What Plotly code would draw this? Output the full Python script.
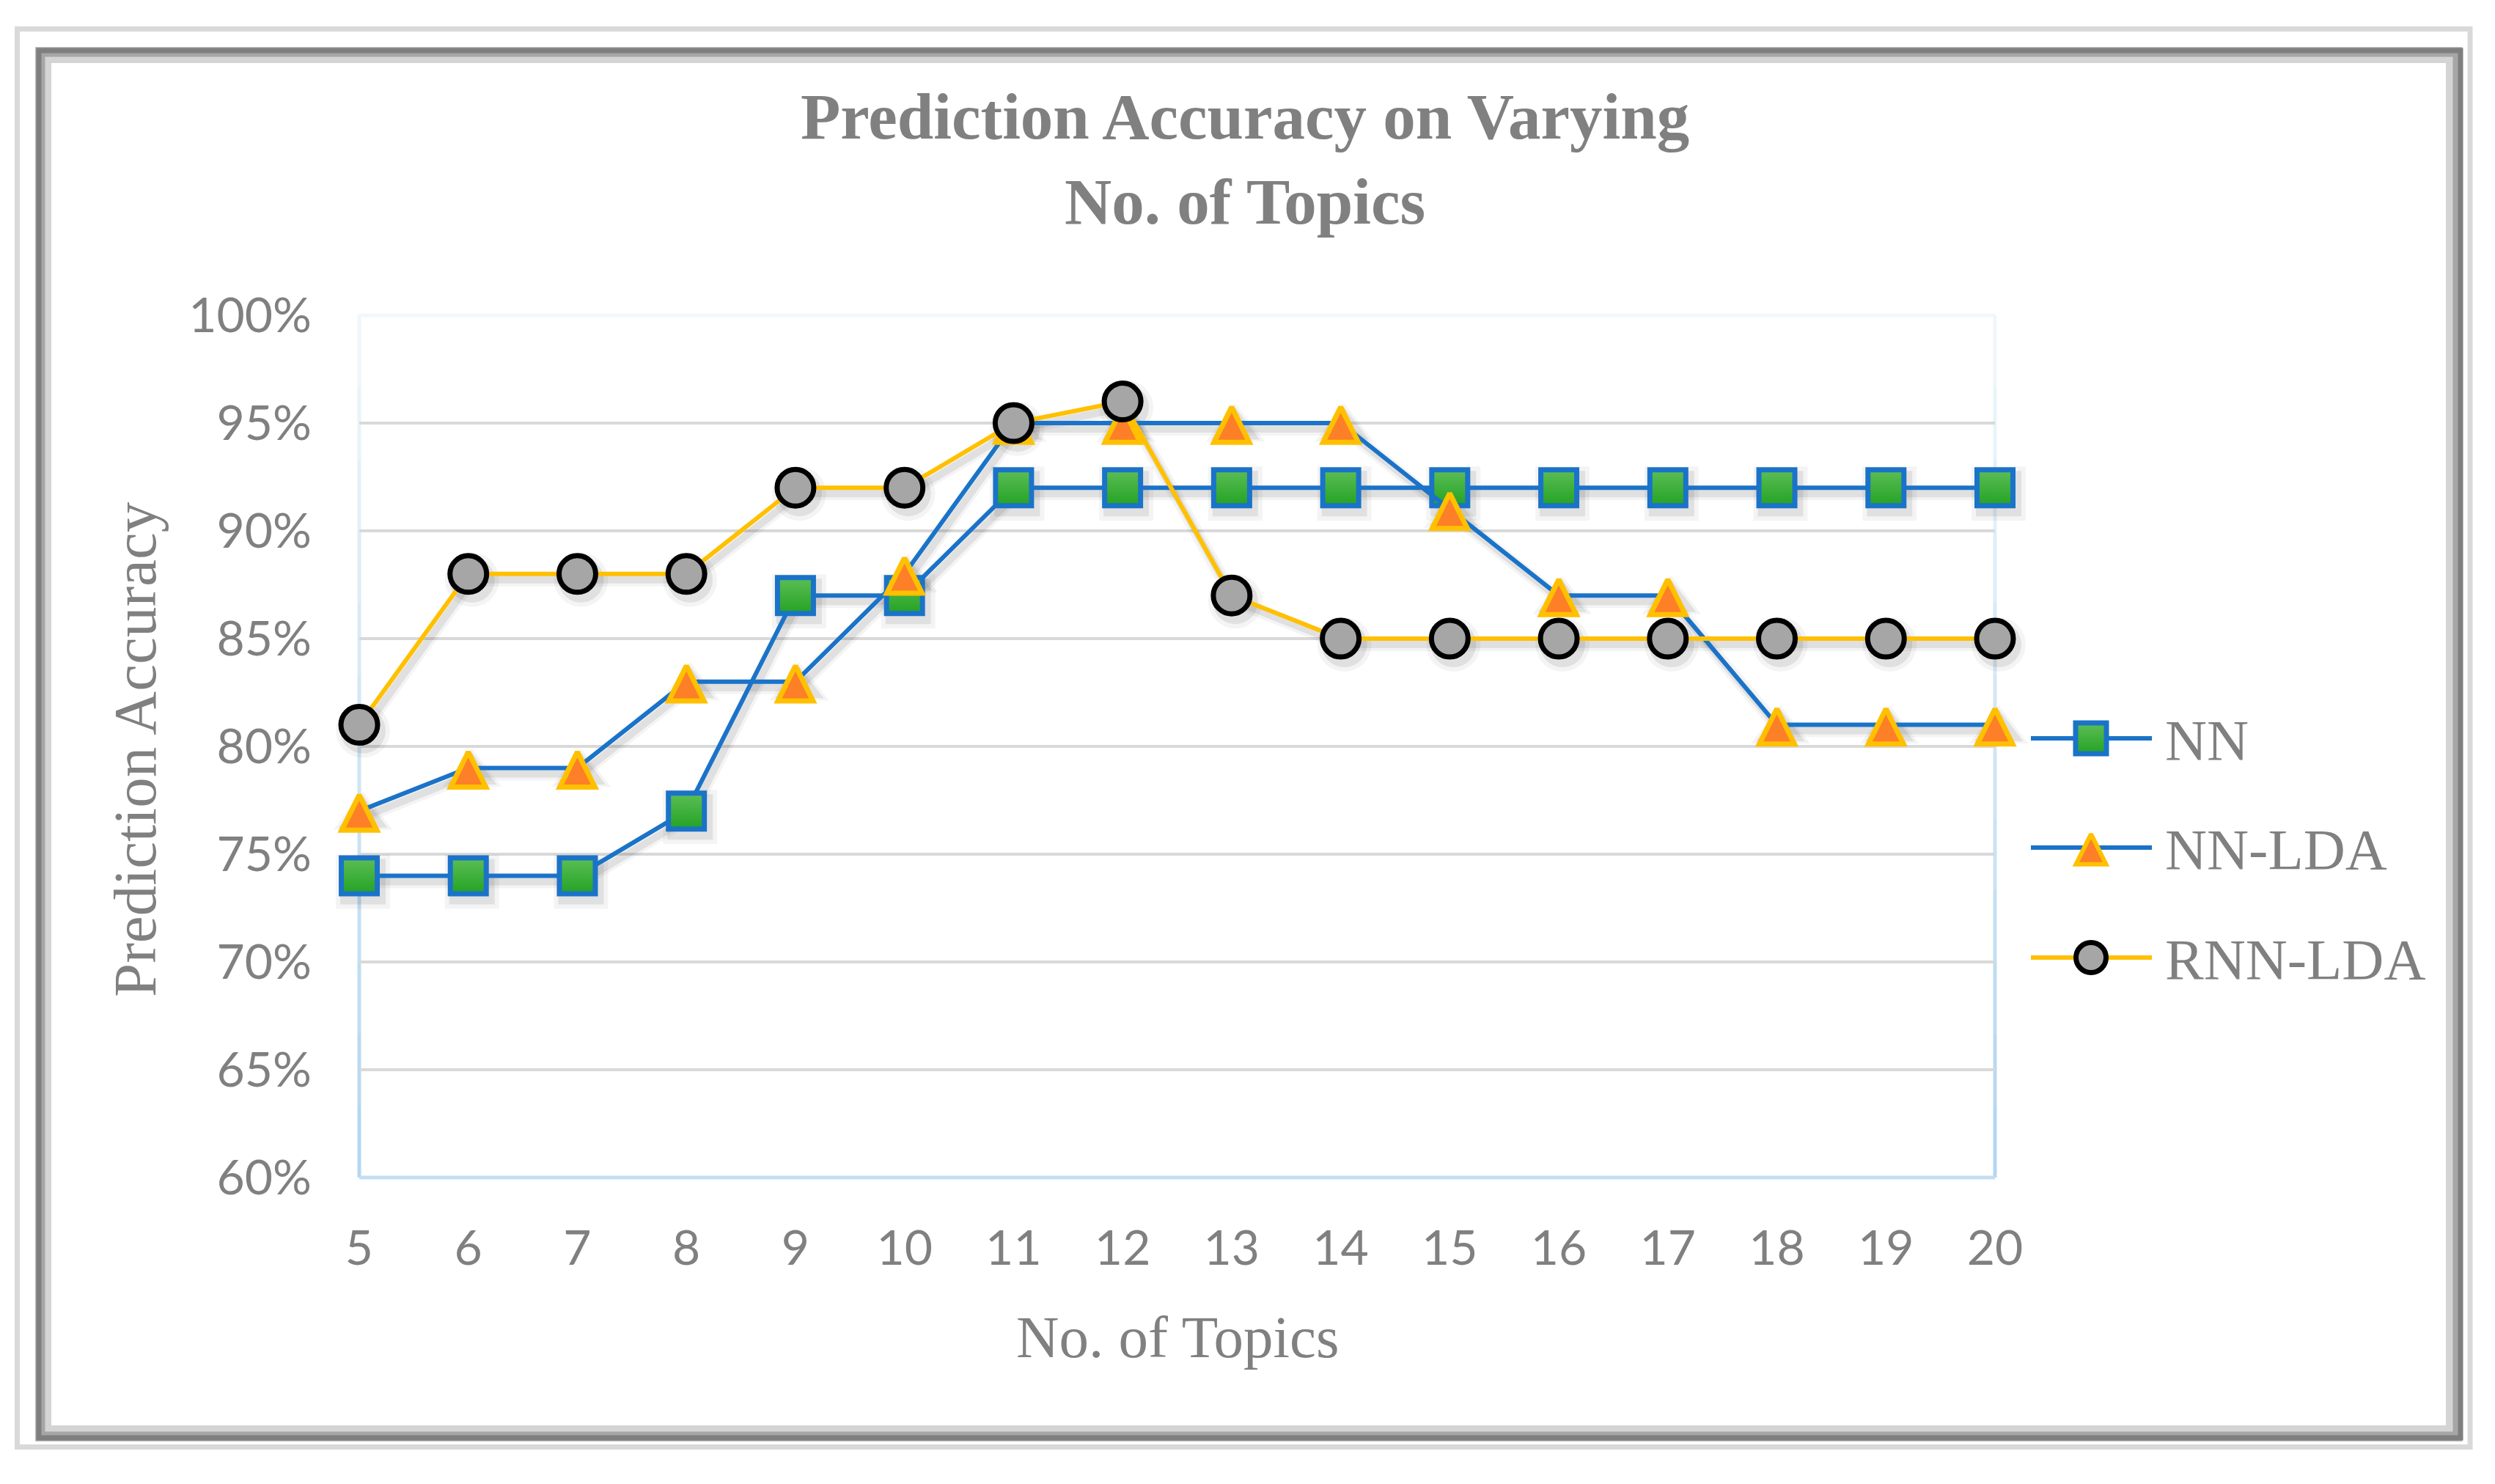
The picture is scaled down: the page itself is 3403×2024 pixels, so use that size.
import plotly.graph_objects as go

# ---------------- data ----------------
topics = [5, 6, 7, 8, 9, 10, 11, 12, 13, 14, 15, 16, 17, 18, 19, 20]
nn      = [0.74, 0.74, 0.74, 0.77, 0.87, 0.87, 0.92, 0.92, 0.92, 0.92, 0.92, 0.92, 0.92, 0.92, 0.92, 0.92]
nn_lda  = [0.77, 0.79, 0.79, 0.83, 0.83, 0.88, 0.95, 0.95, 0.95, 0.95, 0.91, 0.87, 0.87, 0.81, 0.81, 0.81]
rnn_lda = [0.81, 0.88, 0.88, 0.88, 0.92, 0.92, 0.95, 0.96, 0.87, 0.85, 0.85, 0.85, 0.85, 0.85, 0.85, 0.85]
series_names = ["NN", "NN-LDA", "RNN-LDA"]
y_tickvals = [0.60, 0.65, 0.70, 0.75, 0.80, 0.85, 0.90, 0.95, 1.00]
y_ticktext = ["60%", "65%", "70%", "75%", "80%", "85%", "90%", "95%", "100%"]
y_gridvals = [0.65, 0.70, 0.75, 0.80, 0.85, 0.90, 0.95]
title_text = "Prediction Accuracy on Varying<br>No. of Topics"
x_title = "No. of Topics"
y_title = "Prediction Accuracy"

# ---------------- layout geometry (pixels) ----------------
W, H = 3403, 2024
PL, PR, PT, PB = 490, 2721, 430, 1606
SH_DX, SH_DY = 5, 8
TRI_S = 48
TRI_SHIFT = (TRI_S - 4.3) / 2.0

def fx(px):
    return px / W

def fy(py):
    return 1 - py / H

GRAY = "#808080"
BLUE = "#1a73c8"
GOLD = "#ffc000"
ORANGE = "#fd7f28"
GREEN_T = "#5cbe56"
GREEN_B = "#24a224"
CIRC = "#a6a6a6"

SERIF = "Liberation Serif"
SANS = "Lato"

main_xdom = [fx(PL), fx(PR)]
main_ydom = [fy(PB), fy(PT)]
sh_xdom = [fx(PL + SH_DX), fx(PR + SH_DX)]
sh_ydom = [fy(PB + SH_DY), fy(PT + SH_DY)]
tri_ydom = [fy(PB - TRI_SHIFT), fy(PT - TRI_SHIFT)]

fig = go.Figure()

# ---------- axes carrier (subplot xy: ticks + grid) ----------
fig.add_trace(go.Scatter(x=[None], y=[None], xaxis="x", yaxis="y", mode="markers",
                         showlegend=False, hoverinfo="skip"))

# ---------- shadows (subplot x2y2, offset a few pixels) ----------
sh_specs = [(nn, "square", 58), (nn_lda, "triangle-up", 54), (rnn_lda, "circle", 58)]
for vals, sym, sz in sh_specs:
    for lw, msz, a in [(18, sz + 16, 0.045), (10, sz + 4, 0.08)]:
        fig.add_trace(go.Scatter(
            x=topics, y=vals, mode="lines+markers", xaxis="x2", yaxis="y2",
            line=dict(color=f"rgba(0,0,0,{a})", width=lw),
            marker=dict(symbol=sym, size=msz, color=f"rgba(0,0,0,{a})", line=dict(width=0)),
            showlegend=False, hoverinfo="skip", cliponaxis=False))

# ---------- NN + NN-LDA line (subplot x3y3) ----------
fig.add_trace(go.Scatter(
    x=topics, y=nn, mode="lines+markers", name=series_names[0], xaxis="x3", yaxis="y3",
    line=dict(color=BLUE, width=6),
    marker=dict(symbol="square", size=49, color=GREEN_T,
                gradient=dict(type="vertical", color=GREEN_B),
                line=dict(color=BLUE, width=7)),
    showlegend=False, cliponaxis=False))
fig.add_trace(go.Scatter(
    x=topics, y=nn_lda, mode="lines", name=series_names[1], xaxis="x3", yaxis="y3",
    line=dict(color=BLUE, width=6), showlegend=False, cliponaxis=False))

# ---------- NN-LDA markers (subplot x4y4, shifted so arrow-up triangle is centred) ----------
fig.add_trace(go.Scatter(
    x=topics, y=nn_lda, mode="markers", name=series_names[1], xaxis="x4", yaxis="y4",
    marker=dict(symbol="arrow-up", size=TRI_S, color=ORANGE, line=dict(color=GOLD, width=7)),
    showlegend=False, cliponaxis=False))

# ---------- RNN-LDA (subplot x5y5) ----------
fig.add_trace(go.Scatter(
    x=topics, y=rnn_lda, mode="lines+markers", name=series_names[2], xaxis="x5", yaxis="y5",
    line=dict(color=GOLD, width=6),
    marker=dict(symbol="circle", size=50, color=CIRC, line=dict(color="#000000", width=7)),
    showlegend=False, cliponaxis=False))

# ---------- legend (pixel overlay x6y6) ----------
LEG_X0, LEG_X1, LEG_XM, LEG_TX = 2770, 2935, 2852, 2951
LEG_ROWS = [1007, 1156, 1306]
leg_styles = [
    dict(line=BLUE, sym="square", size=42, fill=GREEN_T, grad=GREEN_B, edge=BLUE, lw=7, dy=0),
    dict(line=BLUE, sym="arrow-up", size=41, fill=ORANGE, grad=None, edge=GOLD, lw=6, dy=-(41 - 4.3) / 2),
    dict(line=GOLD, sym="circle", size=41, fill=CIRC, grad=None, edge="#000000", lw=7, dy=0),
]
for name, row, st in zip(series_names, LEG_ROWS, leg_styles):
    fig.add_trace(go.Scatter(
        x=[LEG_X0, LEG_X1], y=[row, row], mode="lines", xaxis="x6", yaxis="y6",
        line=dict(color=st["line"], width=6), showlegend=False, hoverinfo="skip"))
    mk = dict(symbol=st["sym"], size=st["size"], color=st["fill"], line=dict(color=st["edge"], width=st["lw"]))
    if st["grad"]:
        mk["gradient"] = dict(type="vertical", color=st["grad"])
    fig.add_trace(go.Scatter(
        x=[LEG_XM], y=[row + st["dy"]], mode="markers", xaxis="x6", yaxis="y6",
        marker=mk, showlegend=False, hoverinfo="skip", cliponaxis=False))

# ---------- shapes: frame + plot border ----------
shapes = []
shapes.append(dict(type="rect", xref="paper", yref="paper", layer="below",
                   x0=fx(23.5), x1=fx(3369), y0=fy(39.5), y1=fy(1973.5),
                   line=dict(color="#d9d9d9", width=7), fillcolor="rgba(0,0,0,0)"))
for (x0, y0, x1, y1, w, c) in [
    (59, 75, 3347, 1955, 22, "#d4d4d4"),
    (55, 71, 3352, 1959, 13, "#a6a6a6"),
    (53, 69, 3356, 1961, 7, "#7f7f7f"),
]:
    shapes.append(dict(type="rect", xref="paper", yref="paper", layer="below",
                       x0=fx(x0), x1=fx(x1), y0=fy(y0), y1=fy(y1),
                       line=dict(color=c, width=w), fillcolor="rgba(0,0,0,0)"))

def lerp_col(c0, c1, t):
    a = [int(c0[i:i + 2], 16) for i in (1, 3, 5)]
    b = [int(c1[i:i + 2], 16) for i in (1, 3, 5)]
    return "#" + "".join(f"{round(a[k] + (b[k] - a[k]) * t):02x}" for k in range(3))

TOPC, BOTC = "#f1f7fc", "#b2d5ef"
NSEG = 12
for i in range(NSEG):
    t0, t1 = i / NSEG, (i + 1) / NSEG
    col = lerp_col(TOPC, BOTC, (t0 + t1) / 2)
    for xpx in (PL, PR):
        shapes.append(dict(type="line", xref="paper", yref="paper", layer="below",
                           x0=fx(xpx), x1=fx(xpx),
                           y0=fy(PT + (PB - PT) * t0), y1=fy(PT + (PB - PT) * t1),
                           line=dict(color=col, width=5)))
shapes.append(dict(type="line", xref="paper", yref="paper", layer="below",
                   x0=fx(PL), x1=fx(PR), y0=fy(PB), y1=fy(PB), line=dict(color="#c3def2", width=5)))
shapes.append(dict(type="line", xref="paper", yref="paper", layer="below",
                   x0=fx(PL), x1=fx(PR), y0=fy(PT), y1=fy(PT), line=dict(color=TOPC, width=5)))

# ---------- annotations ----------
annotations = [
    dict(text=title_text, xref="paper", yref="paper", x=fx(1698), y=fy(217),
         xanchor="center", yanchor="middle", showarrow=False,
         font=dict(family=SERIF, size=89, color=GRAY, weight="bold")),
    dict(text=x_title, xref="paper", yref="paper", x=fx(1606), y=fy(1824),
         xanchor="center", yanchor="middle", showarrow=False,
         font=dict(family=SERIF, size=81, color=GRAY)),
    dict(text=y_title, xref="paper", yref="paper", x=fx(184), y=fy(1022),
         xanchor="center", yanchor="middle", showarrow=False, textangle=-90,
         font=dict(family=SERIF, size=83, color=GRAY)),
]
for name, row in zip(series_names, LEG_ROWS):
    annotations.append(dict(text=name, xref="x6", yref="y6", x=LEG_TX, y=row + 2,
                            xanchor="left", yanchor="middle", showarrow=False,
                            font=dict(family=SERIF, size=79, color=GRAY)))

hidden = dict(visible=False, fixedrange=True, automargin=False)
fig.update_layout(
    template="none",
    width=W, height=H,
    margin=dict(l=0, r=0, t=0, b=0, pad=0, autoexpand=False),
    paper_bgcolor="white", plot_bgcolor="rgba(0,0,0,0)",
    showlegend=False,
    xaxis=dict(domain=main_xdom, range=[5, 20], anchor="y", automargin=False,
               tickmode="array", tickvals=topics, ticktext=[str(t) for t in topics],
               showgrid=False, zeroline=False, showline=False, ticks="",
               tickfont=dict(family=SANS, size=66, color=GRAY), ticklabelstandoff=52),
    yaxis=dict(domain=main_ydom, range=[0.6, 1.0], anchor="x", automargin=False,
               tickmode="array", tickvals=y_tickvals, ticktext=y_ticktext,
               showgrid=False, zeroline=False, showline=False, ticks="",
               minor=dict(tickmode="array", tickvals=y_gridvals, showgrid=True,
                          gridcolor="#d9d9d9", gridwidth=4, ticks=""),
               tickfont=dict(family=SANS, size=66, color=GRAY), ticklabelstandoff=64),
    xaxis2=dict(domain=sh_xdom, range=[5, 20], anchor="y2", **hidden),
    yaxis2=dict(domain=sh_ydom, range=[0.6, 1.0], anchor="x2", **hidden),
    xaxis3=dict(domain=main_xdom, range=[5, 20], anchor="y3", **hidden),
    yaxis3=dict(domain=main_ydom, range=[0.6, 1.0], anchor="x3", **hidden),
    xaxis4=dict(domain=main_xdom, range=[5, 20], anchor="y4", **hidden),
    yaxis4=dict(domain=tri_ydom, range=[0.6, 1.0], anchor="x4", **hidden),
    xaxis5=dict(domain=main_xdom, range=[5, 20], anchor="y5", **hidden),
    yaxis5=dict(domain=main_ydom, range=[0.6, 1.0], anchor="x5", **hidden),
    xaxis6=dict(domain=[0, 1], range=[0, W], anchor="y6", **hidden),
    yaxis6=dict(domain=[0, 1], range=[H, 0], anchor="x6", **hidden),
    shapes=shapes,
    annotations=annotations,
)

fig.write_html("out.html", config={"displayModeBar": False},
               post_script="document.body.style.margin='0';document.body.style.overflow='hidden';")
